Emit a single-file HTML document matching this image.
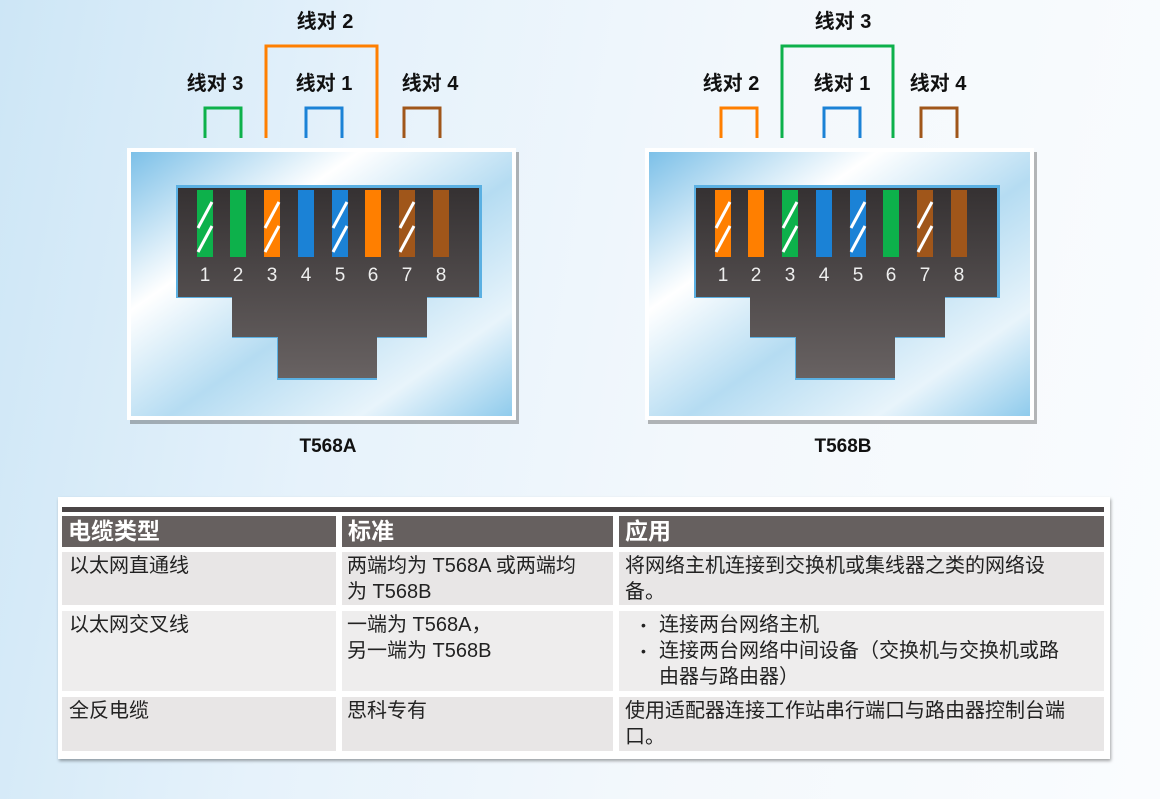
<!DOCTYPE html>
<html><head><meta charset="utf-8"><style>
body{margin:0;width:1160px;height:799px;overflow:hidden;font-family:"Liberation Sans","Noto Sans CJK SC",sans-serif;background:linear-gradient(100deg,#cde6f6 0%,#e6f2fb 30%,#f3f8fc 60%,#fafcfe 100%);position:relative}
.t{position:absolute;font-size:20px;color:#222;line-height:26px;white-space:nowrap}
.c{position:absolute;background:#e8e6e6}
.h{position:absolute;background:#66605f;color:#fff;font-weight:bold;font-size:23px;line-height:31px;padding-left:6px;box-sizing:border-box}
</style></head><body>
<svg width="1160" height="480" style="position:absolute;left:0;top:0" font-family="Liberation Sans, Noto Sans CJK SC, sans-serif">
<defs>
<linearGradient id="bg" x1="0" y1="0" x2="1" y2="1">
<stop offset="0" stop-color="#7cc0e8"/><stop offset="0.3" stop-color="#ffffff"/><stop offset="0.55" stop-color="#b5dcf2"/><stop offset="0.8" stop-color="#e8f4fb"/><stop offset="1" stop-color="#8fcbec"/></linearGradient>
<linearGradient id="dk" x1="0" y1="0" x2="0" y2="1"><stop offset="0" stop-color="#353132"/><stop offset="1" stop-color="#686262"/></linearGradient>
<g id="conn">
<rect x="130" y="152" width="389" height="272" fill="#333" opacity="0.35"/>
<rect x="127" y="148" width="389" height="272" fill="#fff"/>
<rect x="131" y="152" width="381" height="264" fill="url(#bg)"/>
<path d="M176,185 H482 V298 H427 V338 H377 V380 H277 V338 H232 V298 H176Z" fill="#5bb0e2"/>
<path d="M178,188 H479 V297 H427 V337 H377 V378 H278 V337 H232 V297 H178Z" fill="url(#dk)"/>
</g>
</defs>
<use href="#conn"/>
<g>
<rect x="197" y="190" width="16" height="67" fill="#0db14b"/>
<rect x="230" y="190" width="16" height="67" fill="#0db14b"/>
<rect x="264" y="190" width="16" height="67" fill="#ff7f00"/>
<rect x="298" y="190" width="16" height="67" fill="#1b82d6"/>
<rect x="332" y="190" width="16" height="67" fill="#1b82d6"/>
<rect x="365" y="190" width="16" height="67" fill="#ff7f00"/>
<rect x="399" y="190" width="16" height="67" fill="#a0561a"/>
<rect x="433" y="190" width="16" height="67" fill="#a0561a"/>
<g stroke="#fff" stroke-width="3">
<line x1="198" y1="228" x2="212" y2="202"/><line x1="198" y1="252" x2="212" y2="226"/>
<line x1="265" y1="228" x2="279" y2="202"/><line x1="265" y1="252" x2="279" y2="226"/>
<line x1="333" y1="228" x2="347" y2="202"/><line x1="333" y1="252" x2="347" y2="226"/>
<line x1="400" y1="228" x2="414" y2="202"/><line x1="400" y1="252" x2="414" y2="226"/>
</g>
<g fill="#eee" font-size="19" text-anchor="middle">
<text x="205" y="281">1</text><text x="238" y="281">2</text><text x="272" y="281">3</text><text x="306" y="281">4</text><text x="340" y="281">5</text><text x="373" y="281">6</text><text x="407" y="281">7</text><text x="441" y="281">8</text></g>
<g fill="none" stroke-width="3">
<path d="M205,138 V108 H241 V138" stroke="#0db14b"/>
<path d="M266,138 V46 H377 V138" stroke="#ff7f00"/>
<path d="M306,138 V108 H342 V138" stroke="#1b82d6"/>
<path d="M404,138 V108 H440 V138" stroke="#a0561a"/>
</g>
<g font-weight="bold" font-size="20" fill="#111" text-anchor="middle">
<text x="325" y="28">线对 2</text><text x="215" y="90">线对 3</text><text x="324" y="90">线对 1</text><text x="430" y="90">线对 4</text>
<text x="328" y="452" font-size="19">T568A</text></g>
</g>
<g transform="translate(518,0)">
<use href="#conn"/>
<rect x="197" y="190" width="16" height="67" fill="#ff7f00"/>
<rect x="230" y="190" width="16" height="67" fill="#ff7f00"/>
<rect x="264" y="190" width="16" height="67" fill="#0db14b"/>
<rect x="298" y="190" width="16" height="67" fill="#1b82d6"/>
<rect x="332" y="190" width="16" height="67" fill="#1b82d6"/>
<rect x="365" y="190" width="16" height="67" fill="#0db14b"/>
<rect x="399" y="190" width="16" height="67" fill="#a0561a"/>
<rect x="433" y="190" width="16" height="67" fill="#a0561a"/>
<g stroke="#fff" stroke-width="3">
<line x1="198" y1="228" x2="212" y2="202"/><line x1="198" y1="252" x2="212" y2="226"/>
<line x1="265" y1="228" x2="279" y2="202"/><line x1="265" y1="252" x2="279" y2="226"/>
<line x1="333" y1="228" x2="347" y2="202"/><line x1="333" y1="252" x2="347" y2="226"/>
<line x1="400" y1="228" x2="414" y2="202"/><line x1="400" y1="252" x2="414" y2="226"/>
</g>
<g fill="#eee" font-size="19" text-anchor="middle">
<text x="205" y="281">1</text><text x="238" y="281">2</text><text x="272" y="281">3</text><text x="306" y="281">4</text><text x="340" y="281">5</text><text x="373" y="281">6</text><text x="407" y="281">7</text><text x="441" y="281">8</text></g>
<g fill="none" stroke-width="3">
<path d="M203,138 V108 H239 V138" stroke="#ff7f00"/>
<path d="M264,138 V46 H375 V138" stroke="#0db14b"/>
<path d="M306,138 V108 H342 V138" stroke="#1b82d6"/>
<path d="M403,138 V108 H439 V138" stroke="#a0561a"/>
</g>
<g font-weight="bold" font-size="20" fill="#111" text-anchor="middle">
<text x="325" y="28">线对 3</text><text x="213" y="90">线对 2</text><text x="324" y="90">线对 1</text><text x="420" y="90">线对 4</text>
<text x="325" y="452" font-size="19">T568B</text></g>
</g>
</svg>
<div style="position:absolute;left:58px;top:497px;width:1052px;height:262px;background:#fff;box-shadow:1px 2px 3px rgba(0,0,0,0.35)"></div>
<div style="position:absolute;left:62px;top:507px;width:1042px;height:5px;background:#4a4546"></div>
<div class="h" style="left:62px;top:516px;width:274px;height:31px">电缆类型</div>
<div class="h" style="left:342px;top:516px;width:271px;height:31px">标准</div>
<div class="h" style="left:619px;top:516px;width:485px;height:31px">应用</div>
<div class="c" style="left:62px;top:552px;width:274px;height:53px"></div>
<div class="c" style="left:342px;top:552px;width:271px;height:53px"></div>
<div class="c" style="left:619px;top:552px;width:485px;height:53px"></div>
<div class="c" style="left:62px;top:611px;width:274px;height:80px;background:#eeeded"></div>
<div class="c" style="left:342px;top:611px;width:271px;height:80px;background:#eeeded"></div>
<div class="c" style="left:619px;top:611px;width:485px;height:80px;background:#eeeded"></div>
<div class="c" style="left:62px;top:697px;width:274px;height:54px"></div>
<div class="c" style="left:342px;top:697px;width:271px;height:54px"></div>
<div class="c" style="left:619px;top:697px;width:485px;height:54px"></div>
<div class="t" style="left:69px;top:553px">以太网直通线</div>
<div class="t" style="left:347px;top:553px">两端均为 T568A 或两端均<br>为 T568B</div>
<div class="t" style="left:625px;top:553px">将网络主机连接到交换机或集线器之类的网络设<br>备。</div>
<div class="t" style="left:69px;top:612px">以太网交叉线</div>
<div class="t" style="left:347px;top:612px">一端为 T568A，<br>另一端为 T568B</div>
<div class="t" style="left:641px;top:612px;font-size:14px">•<br>•</div>
<div class="t" style="left:659px;top:612px">连接两台网络主机<br>连接两台网络中间设备（交换机与交换机或路<br>由器与路由器）</div>
<div class="t" style="left:69px;top:698px">全反电缆</div>
<div class="t" style="left:347px;top:698px">思科专有</div>
<div class="t" style="left:625px;top:698px">使用适配器连接工作站串行端口与路由器控制台端<br>口。</div>
</body></html>
